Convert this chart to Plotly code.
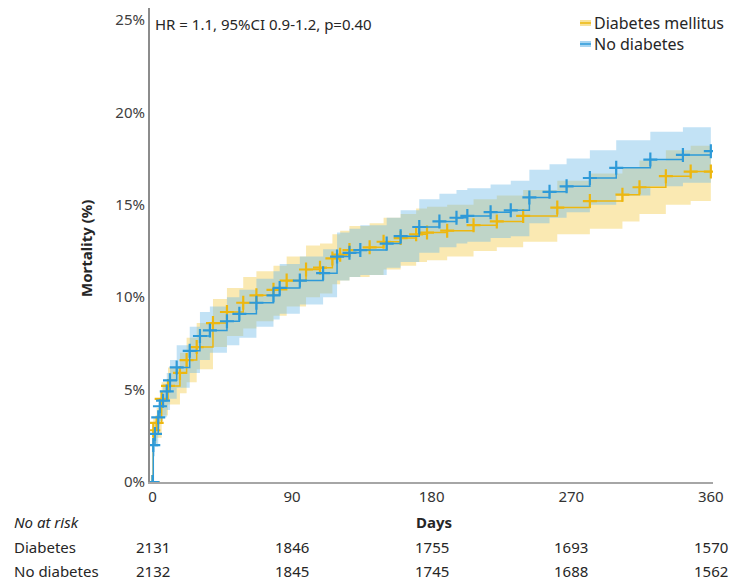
import plotly.graph_objects as go

# ---------------- data ----------------
days_dm = [0, 0.5, 2.7, 5.9, 10, 17.7, 22, 28.5, 39, 48, 58.5, 67, 78, 86.5, 99, 108, 116, 121, 127, 140,
           149, 160, 170, 177, 190, 207, 222, 239, 261, 282, 303, 314, 331, 347, 360]
est_dm = [0, 2.8, 3.2, 4.5, 5.2, 5.9, 6.6, 7.3, 8.6, 9.2, 9.7, 10.1, 10.4, 10.9, 11.5, 11.6, 12.1, 12.3, 12.55, 12.7,
          13.0, 13.2, 13.4, 13.5, 13.6, 13.9, 14.1, 14.4, 14.85, 15.2, 15.55, 15.95, 16.55, 16.8, 16.8]
upper_dm = [0, 3.5, 4.0, 5.4, 6.2, 7.0, 7.8, 8.6, 9.9, 10.5, 11.1, 11.4, 11.7, 12.2, 12.8, 12.9, 13.4, 13.6, 13.85, 14.0,
            14.3, 14.5, 14.8, 14.9, 15.0, 15.3, 15.5, 15.8, 16.3, 16.7, 17.0, 17.4, 17.95, 18.2, 18.25]
lower_dm = [0, 2.1, 2.4, 3.6, 4.2, 4.8, 5.4, 6.1, 7.3, 7.9, 8.3, 8.7, 9.0, 9.5, 10.0, 10.2, 10.7, 10.9, 11.1, 11.2,
            11.5, 11.7, 11.9, 12.0, 12.2, 12.5, 12.7, 13.0, 13.4, 13.7, 14.1, 14.5, 15.0, 15.2, 15.2]

days_nd = [0, 0.5, 1.6, 3.7, 4.8, 6.8, 9.2, 11.3, 15.6, 24, 30.6, 37, 48, 56, 67, 78, 82, 95, 110, 119,
           127, 134, 151, 160, 172, 185, 196, 203, 218, 231, 243, 256, 267, 282, 299, 321, 342, 360]
est_nd = [0, 2.0, 2.6, 3.5, 4.1, 4.4, 4.9, 5.5, 6.2, 7.1, 7.9, 8.2, 8.7, 9.1, 9.7, 10.1, 10.5, 10.9, 11.3, 12.2,
          12.4, 12.55, 12.9, 13.3, 13.8, 14.1, 14.3, 14.4, 14.6, 14.7, 15.4, 15.7, 16.0, 16.45, 17.0, 17.45, 17.7, 17.9]
upper_nd = [0, 2.6, 3.3, 4.3, 4.9, 5.3, 5.9, 6.6, 7.4, 8.4, 9.2, 9.5, 10.0, 10.4, 11.0, 11.4, 11.8, 12.2, 12.6, 13.5,
            13.7, 13.9, 14.3, 14.7, 15.3, 15.6, 15.8, 15.9, 16.1, 16.3, 16.9, 17.2, 17.5, 17.95, 18.5, 18.95, 19.2, 19.35]
lower_nd = [0, 1.4, 1.9, 2.7, 3.3, 3.5, 3.9, 4.5, 5.1, 5.9, 6.6, 7.0, 7.4, 7.8, 8.4, 8.8, 9.1, 9.6, 10.0, 10.9,
            11.1, 11.2, 11.6, 11.9, 12.4, 12.7, 12.9, 13.0, 13.2, 13.3, 14.0, 14.3, 14.6, 15.0, 15.5, 16.0, 16.2, 16.4]

x_ticks = [0, 90, 180, 270, 360]
y_ticks = [0, 5, 10, 15, 20, 25]
risk_dm = [2131, 1846, 1755, 1693, 1570]
risk_nd = [2132, 1845, 1745, 1688, 1562]
series_names = ["Diabetes mellitus", "No diabetes"]
risk_labels = ["Diabetes", "No diabetes"]
stats_text = "HR = 1.1, 95%CI 0.9-1.2, p=0.40"

# ---------------- style ----------------
OFF = 8  # page body margin: the figure starts 8 px in from the window's top-left corner
W, H = 744 - OFF, 587 - OFF
L, R, T, B = 150 - OFF, 31, 8 - OFF, 105
PW, PH = W - L - R, H - T - B
FONT = "Noto Sans"
YEL = "#EDB70F"
BLU = "#2E9AD8"
YEL_FILL = "rgba(244,206,85,0.45)"
BLU_FILL = "rgba(110,185,232,0.42)"
TXT = "#262626"


def px(xp):  # window pixel -> paper x
    return (xp - OFF - L) / PW


def py(yp):  # window pixel -> paper y
    return (H - B - (yp - OFF)) / PH


fig = go.Figure()


def band(days, lo, hi, fill):
    fig.add_trace(go.Scatter(x=days, y=hi, mode="lines", line=dict(width=0, shape="hv"),
                             showlegend=False, hoverinfo="skip"))
    fig.add_trace(go.Scatter(x=days, y=lo, mode="lines", line=dict(width=0, shape="hv"),
                             fill="tonexty", fillcolor=fill, showlegend=False, hoverinfo="skip"))


band(days_dm, lower_dm, upper_dm, YEL_FILL)
band(days_nd, lower_nd, upper_nd, BLU_FILL)

for days, est, col, name in [(days_dm, est_dm, YEL, series_names[0]), (days_nd, est_nd, BLU, series_names[1])]:
    fig.add_trace(go.Scatter(x=days, y=est, mode="lines+markers", name=name,
                             line=dict(color=col, width=1.5, shape="hv"),
                             marker=dict(symbol="cross-thin", size=10, line=dict(color=col, width=2.2)),
                             showlegend=False))

ann = []
ann.append(dict(x=px(153), y=py(24), xref="paper", yref="paper", text=stats_text, showarrow=False,
                xanchor="left", yanchor="middle", font=dict(family=FONT, size=15, color=TXT)))
shapes = []
for i, (name, col, fillc) in enumerate([(series_names[0], YEL, "rgba(244,206,85,0.6)"),
                                         (series_names[1], BLU, "rgba(110,185,232,0.6)")]):
    yc = 23 + i * 21
    shapes.append(dict(type="rect", xref="paper", yref="paper", x0=px(580), x1=px(591),
                       y0=py(yc + 3), y1=py(yc - 3), fillcolor=fillc, line=dict(width=0)))
    shapes.append(dict(type="line", xref="paper", yref="paper", x0=px(580), x1=px(591),
                       y0=py(yc), y1=py(yc), line=dict(color=col, width=1.5)))
    ann.append(dict(x=px(592), y=py(yc), xref="paper", yref="paper", text=name, showarrow=False,
                    xanchor="left", yanchor="middle", font=dict(family=FONT, size=16, color=TXT)))
ann.append(dict(x=px(434), y=py(522), xref="paper", yref="paper", text="<b>Days</b>", showarrow=False,
                xanchor="center", yanchor="middle", font=dict(family=FONT, size=15, color=TXT)))
ann.append(dict(x=px(86), y=py(249), xref="paper", yref="paper", text="<b>Mortality (%)</b>", showarrow=False,
                textangle=-90, xanchor="center", yanchor="middle", font=dict(family=FONT, size=15, color=TXT)))
ann.append(dict(x=px(12), y=py(522), xref="paper", yref="paper", text="<i>No at risk</i>", showarrow=False,
                xanchor="left", yanchor="middle", font=dict(family=FONT, size=15, color=TXT)))
for j, (lab, vals) in enumerate([(risk_labels[0], risk_dm), (risk_labels[1], risk_nd)]):
    yc = 547 + j * 24
    ann.append(dict(x=px(12), y=py(yc), xref="paper", yref="paper", text=lab, showarrow=False,
                    xanchor="left", yanchor="middle", font=dict(family=FONT, size=15, color=TXT)))
    for d, v in zip(x_ticks, vals):
        ann.append(dict(x=d, y=py(yc), xref="x", yref="paper", text=str(v), showarrow=False,
                        xanchor="center", yanchor="middle", font=dict(family=FONT, size=15, color=TXT)))

fig.update_layout(
    width=W, height=H, margin=dict(l=L, r=R, t=T, b=B),
    paper_bgcolor="white", plot_bgcolor="white",
    font=dict(family=FONT, size=15, color="#404040"),
    showlegend=False, annotations=ann, shapes=shapes,
    xaxis=dict(range=[-1.61, 361.4], tickvals=x_ticks, ticktext=[str(v) for v in x_ticks],
               showgrid=False, zeroline=False, showline=True, linecolor="#a6a6a6", linewidth=1.5,
               ticks="", tickfont=dict(family=FONT, size=15, color="#333333")),
    yaxis=dict(range=[0, 25.65], tickvals=y_ticks, ticktext=[f"{v}%" for v in y_ticks],
               showgrid=False, zeroline=False, showline=True, linecolor="#8c8c8c", linewidth=2,
               ticks="", tickfont=dict(family=FONT, size=15, color="#404040")),
)

fig.write_html("out.html")
